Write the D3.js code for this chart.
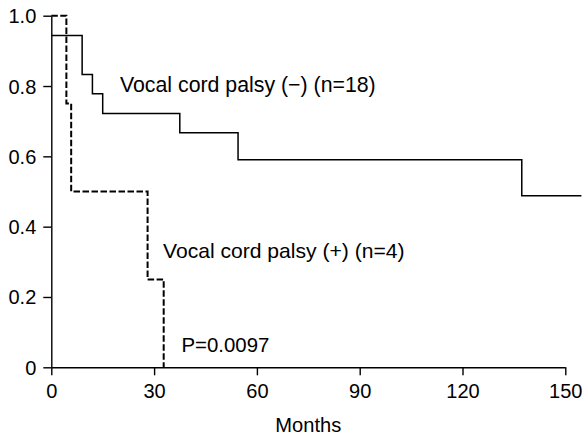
<!DOCTYPE html>
<html><head><meta charset="utf-8">
<script src="https://cdn.jsdelivr.net/npm/d3@7"></script>
<style>body{margin:0;background:#fff}svg{display:block}text{font-family:Arial,"Liberation Sans",sans-serif}</style>
</head><body>
<svg id="c" width="585" height="437"></svg>
<script>
const xTicks = [0, 30, 60, 90, 120, 150];
const yTicks = [0, 0.2, 0.4, 0.6, 0.8, 1.0];
const yTickLabels = ["0", "0.2", "0.4", "0.6", "0.8", "1.0"];
// Vocal cord palsy (-) : event times and survival after each step
const negTimes = [0, 9, 12, 15, 37.5, 54.5, 137.3];
const negSurv = [0.944, 0.833, 0.778, 0.722, 0.667, 0.590, 0.488];
const negEnd = 154.7;
// Vocal cord palsy (+)
const posTimes = [0, 4.4, 5.8, 28.1, 32.8];
const posSurv = [1.0, 0.75, 0.5, 0.25, 0];
const posEnd = 32.8;
const labels = ["Vocal cord palsy (\u2212) (n=18)", "Vocal cord palsy (+) (n=4)", "P=0.0097"];

const svg = d3.select("#c");
const x = d3.scaleLinear().domain([0, 150]).range([51.3, 565.3]);
const y = d3.scaleLinear().domain([0, 1]).range([367.3, 15.7]);

const fs = 20;
const xa = svg.append("g").attr("transform", `translate(0,${y(0)})`)
  .call(d3.axisBottom(x).tickValues(xTicks).tickSize(8).tickSizeOuter(0).tickFormat(d3.format("d")));
const ya = svg.append("g").attr("transform", `translate(${x(0)},0)`)
  .call(d3.axisLeft(y).tickValues(yTicks).tickSize(8).tickSizeOuter(0).tickFormat((d,i)=>yTickLabels[i]));
[xa, ya].forEach(g => {
  g.selectAll("path,line").attr("stroke", "#000").attr("stroke-width", 1.4);
  g.selectAll("text").attr("font-size", fs).attr("fill", "#000").attr("font-family", "Arial, 'Liberation Sans', sans-serif");
});
xa.selectAll("text").attr("dy", null).attr("y", 31);
ya.selectAll("text").attr("x", -15).attr("dy", "0.35em");

function stepPts(times, surv, end) {
  const pts = [];
  times.forEach((t, i) => {
    if (i > 0) pts.push([t, surv[i - 1]]);
    pts.push([t, surv[i]]);
  });
  pts.push([end, surv[surv.length - 1]]);
  return pts;
}
const line = d3.line().x(d => x(d[0])).y(d => y(d[1]));
svg.append("path").attr("d", line(stepPts(negTimes, negSurv, negEnd)))
  .attr("fill", "none").attr("stroke", "#000").attr("stroke-width", 1.5);
svg.append("path").attr("d", line(stepPts(posTimes, posSurv, posEnd)))
  .attr("fill", "none").attr("stroke", "#000").attr("stroke-width", 2).attr("stroke-dasharray", "6.5,2.5");

svg.append("text").attr("x", 120).attr("y", 91.7).attr("font-size", 21.3).text(labels[0]);
svg.append("text").attr("x", 163).attr("y", 258.3).attr("font-size", 21.1).text(labels[1]);
svg.append("text").attr("x", 181.5).attr("y", 351.7).attr("font-size", 20.4).text(labels[2]);
svg.append("text").attr("x", (x(0) + x(150)) / 2).attr("y", 432).attr("text-anchor", "middle").attr("font-size", 20.1).text("Months");
</script>
</body></html>
